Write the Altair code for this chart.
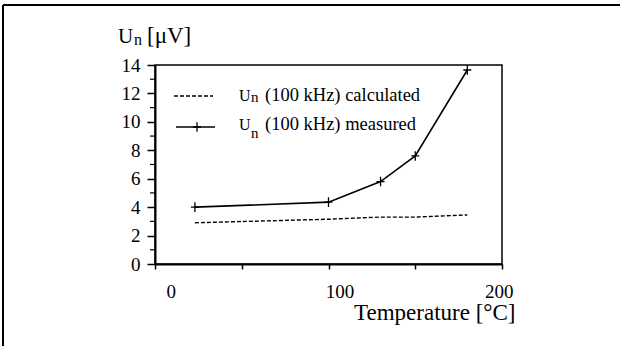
import altair as alt
import pandas as pd

# ---- data ----
temp_meas = [23, 100, 130, 150, 180]
un_meas = [4.0, 4.35, 5.8, 7.6, 13.65]
temp_calc = [23, 100, 130, 150, 180]
un_calc = [2.9, 3.15, 3.3, 3.3, 3.45]

x_ticks = [0, 50, 100, 150, 200]
y_major = [0, 2, 4, 6, 8, 10, 12, 14]
y_minor = [1, 3, 5, 7, 9, 11, 13]

legend_calc = "(100 kHz) calculated"
legend_meas = "(100 kHz) measured"
y_title_main = "U"
y_title_sub = "n"
y_title_unit = "[\u03bcV]"
x_title = "Temperature [\u00b0C]"

FONT = "Liberation Serif"
W, H = 347, 199

meas = pd.DataFrame({"T": temp_meas, "U": un_meas})
calc = pd.DataFrame({"T": temp_calc, "U": un_calc})
minor = pd.DataFrame({"U": y_minor})

xs = alt.Scale(domain=[0, 200], nice=False)
ys = alt.Scale(domain=[0, 14], nice=False)

x_axis = alt.Axis(
    values=x_ticks, labelExpr="datum.value % 100 == 0 ? datum.label : ''",
    tickSize=5, tickColor="black", tickWidth=1.5, domainColor="black", domainWidth=2,
    labelFont=FONT, labelFontSize=19, labelColor="black", labelOffset=11, labelPadding=13,
    labelBaseline="top", labelOverlap=False, grid=False,
    title=x_title, titleFont=FONT, titleFontSize=23, titleFontWeight="normal",
    titleColor="black", titleX=360, titleY=55, titleAlign="right",
    titleBaseline="alphabetic")
y_axis = alt.Axis(
    values=y_major, tickSize=8, tickColor="black", tickWidth=1.5,
    domainColor="black", domainWidth=2, labelFont=FONT, labelFontSize=19,
    labelColor="black", labelPadding=7, labelOverlap=False, grid=False, title="")

x_enc = alt.X("T:Q", scale=xs, axis=x_axis)
y_enc = alt.Y("U:Q", scale=ys, axis=y_axis)

meas_line = alt.Chart(meas).mark_line(color="black", strokeWidth=1.6).encode(x=x_enc, y=y_enc)
meas_pts = alt.Chart(meas).mark_point(
    shape="M-1,0L1,0M0,-1.2L0,1.2", size=64, filled=False, color="black", strokeWidth=1.3, opacity=1
).encode(x=x_enc, y=y_enc)
calc_line = alt.Chart(calc).mark_line(color="black", strokeWidth=1.4, strokeDash=[4, 2]).encode(
    x=x_enc, y=y_enc)

minor_ticks = alt.Chart(minor).mark_rule(color="black", strokeWidth=1.2).encode(
    y=y_enc, x=alt.value(-5), x2=alt.value(0))

one = pd.DataFrame({"a": [0]})

def txt(s, x, y, size, align="left"):
    return alt.Chart(pd.DataFrame({"s": [s]})).mark_text(
        font=FONT, fontSize=size, align=align, baseline="alphabetic", color="black"
    ).encode(text="s:N", x=alt.value(x), y=alt.value(y))

# legend samples
leg_dash = alt.Chart(one).mark_rule(color="black", strokeWidth=1.4, strokeDash=[4, 2]).encode(
    x=alt.value(19), x2=alt.value(58), y=alt.value(31))
leg_solid = alt.Chart(one).mark_rule(color="black", strokeWidth=1.6).encode(
    x=alt.value(21), x2=alt.value(60), y=alt.value(62))
leg_plus = alt.Chart(one).mark_point(
    shape="M-1,0L1,0M0,-1.2L0,1.2", size=64, filled=False, color="black", strokeWidth=1.3, opacity=1
).encode(x=alt.value(42), y=alt.value(62))

texts = [
    txt(y_title_main, -37, -22, 21), txt(y_title_sub, -21, -20, 16), txt(y_title_unit, -8, -22, 23),
    txt("U", 84, 36, 16), txt("n", 96, 37, 15), txt(legend_calc, 110, 36, 18.5),
    txt("U", 84, 65, 16), txt("n", 96, 73, 15), txt(legend_meas, 110, 65, 18.5),
]

# outer frame
frame_top = alt.Chart(one).mark_rule(color="black", strokeWidth=2).encode(
    x=alt.value(-152), x2=alt.value(470), y=alt.value(-60))
frame_left = alt.Chart(one).mark_rule(color="black", strokeWidth=2).encode(
    x=alt.value(-152), y=alt.value(-60), y2=alt.value(285))

chart = alt.layer(
    meas_line, calc_line, meas_pts, minor_ticks, leg_dash, leg_solid, leg_plus,
    frame_top, frame_left, *texts
).properties(
    width=W, height=H,
    autosize=alt.AutoSizeParams(type="none"),
    padding={"left": 155, "top": 65, "right": 118, "bottom": 82},
    background="white",
).configure_view(stroke="black", strokeWidth=1.5)

chart.save("out.html", embed_options={"renderer": "svg", "actions": False})
